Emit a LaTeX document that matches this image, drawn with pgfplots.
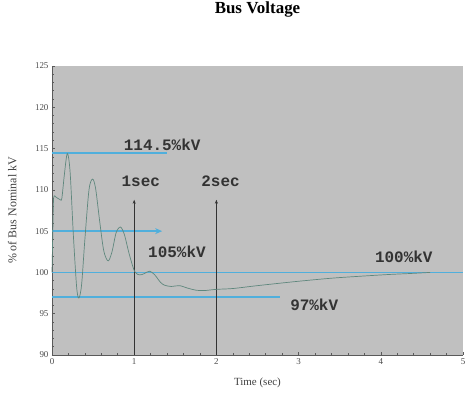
\documentclass[border=0pt]{standalone}
\usepackage{fontspec}
\setmainfont{Liberation Serif}
\setmonofont{Liberation Mono}
\usepackage{pgfplots}
\pgfplotsset{compat=1.18}
\usetikzlibrary{calc,arrows.meta}

\definecolor{plotbg}{RGB}{192,192,192}
\definecolor{limitblue}{RGB}{80,175,220}
\definecolor{trace}{RGB}{95,135,125}
\definecolor{axisgray}{RGB}{90,90,90}

\begin{document}
\begin{tikzpicture}
\begin{axis}[
    scale only axis,
    width=411bp, height=289bp,
    xmin=0, xmax=5,
    ymin=90, ymax=125,
    xtick={0,1,...,5},
    ytick={90,95,...,125},
    minor x tick num=4,
    minor y tick num=4,
    axis lines*=left,
    axis line style={-, axisgray, line width=0.8pt},
    tick style={axisgray, line width=0.6pt},
    tick align=inside,
    major tick length=3bp,
    minor tick length=2bp,
    axis background/.style={fill=plotbg},
    tick label style={font=\fontsize{9}{10}\selectfont, text=black!70},
    /pgf/number format/assume math mode=true,
    title={\textbf{Bus Voltage}},
    title style={font=\fontsize{17}{19}\selectfont, at={(0.5,1)}, anchor=center, yshift=51bp},
    xlabel={Time (sec)},
    xlabel style={font=\fontsize{11}{13}\selectfont, text=black!75, at={(axis description cs:0.5,-0.097)}, anchor=center},
    ylabel={\% of Bus Nominal kV},
    ylabel style={font=\fontsize{12}{14}\selectfont, text=black!75, at={(axis description cs:-0.097,0.5)}, anchor=center},
    clip=false,
]

% limit lines
\addplot[limitblue, line width=1.8pt] coordinates {(0,114.5) (1.40,114.5)};
\addplot[limitblue, line width=1.8pt] coordinates {(0,100) (5,100)};
\addplot[limitblue, line width=1.8pt] coordinates {(0,97) (2.77,97)};
\addplot[limitblue, line width=1.8pt, -{Stealth[length=7pt,width=6pt]}] coordinates {(0,105) (1.34,105)};

% time markers
\addplot[black!80, line width=0.5pt, -{Stealth[length=4pt,width=3pt]}] coordinates {(1,90) (1,108.8)};
\addplot[black!80, line width=0.5pt, -{Stealth[length=4pt,width=3pt]}] coordinates {(2,90) (2,108.8)};

% bus voltage trace
\addplot[trace, line width=0.7pt, smooth, tension=0.5] coordinates {
    (0,100) (0.01,105) (0.02,109) (0.05,109.1) (0.1,108.8) (0.12,109.0)
    (0.15,111.8) (0.186,114.4) (0.22,112.2) (0.26,104.5) (0.3,98.2)
    (0.327,96.9) (0.36,98.5) (0.4,104) (0.45,110) (0.493,111.3)
    (0.53,110.2) (0.58,106.2) (0.63,102.6) (0.683,101.4) (0.73,102.5)
    (0.78,104.8) (0.832,105.5) (0.88,104.6) (0.94,102.2) (1.006,100.1)
    (1.067,99.7) (1.12,99.85) (1.188,100.15) (1.25,99.7) (1.32,98.8)
    (1.37,98.45) (1.45,98.3) (1.55,98.4) (1.65,98.1) (1.75,97.85)
    (1.85,97.8) (2.0,97.95) (2.2,98.05) (2.5,98.4) (2.97,98.9)
    (3.4,99.3) (3.77,99.55) (4.1,99.75) (4.38,99.88) (4.6,100)
};

% annotations
\tikzset{ann/.style={font=\ttfamily\bfseries\fontsize{16}{18}\selectfont, text=black!80}}
\node[ann] at (axis cs:1.34,115.4) {114.5\%kV};
\node[ann] at (axis cs:1.08,111.0) {1sec};
\node[ann] at (axis cs:2.05,111.0) {2sec};
\node[ann] at (axis cs:1.52,102.5) {105\%kV};
\node[ann] at (axis cs:4.28,101.9) {100\%kV};
\node[ann] at (axis cs:3.19,96.05) {97\%kV};
\end{axis}
\pgfresetboundingbox
\path[use as bounding box] ($(current axis.south west)+(-52bp,-45bp)$) rectangle ($(current axis.north east)+(9bp,66bp)$);
\end{tikzpicture}
\end{document}
